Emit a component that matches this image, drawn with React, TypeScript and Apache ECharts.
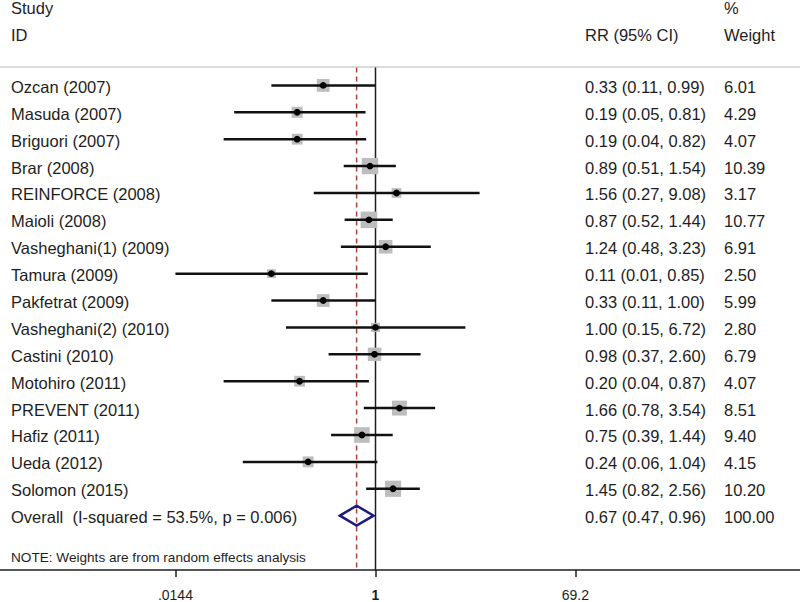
import React, { useEffect, useRef } from "react";
import * as echarts from "echarts";

const studies = [
  "Ozcan (2007)", "Masuda (2007)", "Briguori (2007)", "Brar (2008)", "REINFORCE (2008)",
  "Maioli (2008)", "Vasheghani(1) (2009)", "Tamura (2009)", "Pakfetrat (2009)",
  "Vasheghani(2) (2010)", "Castini (2010)", "Motohiro (2011)", "PREVENT (2011)",
  "Hafiz (2011)", "Ueda (2012)", "Solomon (2015)",
];
const rr = [0.33, 0.19, 0.19, 0.89, 1.56, 0.87, 1.24, 0.11, 0.33, 1.0, 0.98, 0.2, 1.66, 0.75, 0.24, 1.45];
const lower = [0.11, 0.05, 0.04, 0.51, 0.27, 0.52, 0.48, 0.01, 0.11, 0.15, 0.37, 0.04, 0.78, 0.39, 0.06, 0.82];
const upper = [0.99, 0.81, 0.82, 1.54, 9.08, 1.44, 3.23, 0.85, 1.0, 6.72, 2.6, 0.87, 3.54, 1.44, 1.04, 2.56];
const weights = [6.01, 4.29, 4.07, 10.39, 3.17, 10.77, 6.91, 2.5, 5.99, 2.8, 6.79, 4.07, 8.51, 9.4, 4.15, 10.2];

const overallLabel = "Overall  (I-squared = 53.5%, p = 0.006)";
const overallRR = 0.67;
const overallLower = 0.47;
const overallUpper = 0.96;
const overallWeight = 100.0;

const tickValues = [0.0144, 1, 69.2];
const tickLabels = [".0144", "1", "69.2"];

const headerStudy = "Study";
const headerID = "ID";
const headerRR = "RR (95% CI)";
const headerPct = "%";
const headerWeight = "Weight";
const noteText = "NOTE: Weights are from random effects analysis";

const FONT = '"Liberation Sans", Arial, sans-serif';
const TEXT = "#1e1e1e";
const FS = 16.5;

export default function App() {
  const ref = useRef<HTMLDivElement>(null);
  useEffect(() => {
    if (!ref.current) return;
    const chart = echarts.init(ref.current, undefined, { renderer: "svg" });

    const lnMin = Math.log(tickValues[0]);
    const lnMax = Math.log(tickValues[tickValues.length - 1]);
    const pxPerUnit = 200 / ((lnMax - lnMin) / 2);
    const xZeroPx = 375.5;
    const xMin = -xZeroPx / pxPerUnit;
    const xMax = (800 - xZeroPx) / pxPerUnit;
    const rowH = 27.08;
    const row0 = 86;
    const yMin = -row0 / rowH;
    const yMax = (574 - row0) / rowH;
    const lineTopIdx = (68 - row0) / rowH;
    const overallIdx = studies.length;
    const clip = (v: number) => Math.min(Math.max(v, lnMin), lnMax);
    const fmt = (v: number) => v.toFixed(2);

    const rowData = studies.map((s, i) => [
      Math.log(rr[i]), Math.log(lower[i]), Math.log(upper[i]), weights[i], i,
    ]);

    const textStyle = (text: string, x: number, y: number) => ({
      type: "text",
      style: { text, x, y, fill: TEXT, fontSize: FS, fontFamily: FONT, verticalAlign: "middle", align: "left" },
    });
    const headerText = (text: string, x: number, y: number, fs = FS) => ({
      type: "text",
      style: { text, x, y, fill: TEXT, fontSize: fs, fontFamily: FONT, verticalAlign: "middle" },
    });

    const option: any = {
      animation: false,
      backgroundColor: "#ffffff",
      grid: { left: 0, right: 0, top: 0, bottom: 28 },
      xAxis: {
        type: "value",
        min: xMin,
        max: xMax,
        splitLine: { show: false },
        axisLine: { show: true, onZero: false, lineStyle: { color: "#1e1e1e", width: 1.5 } },
        axisTick: {
          show: true,
          length: 7,
          inside: false,
          customValues: tickValues.map((v) => Math.log(v)),
          lineStyle: { color: "#1e1e1e", width: 1.5 },
        },
        axisLabel: {
          show: true,
          margin: 18,
          customValues: tickValues.map((v) => Math.log(v)),
          formatter: (v: number) => {
            let best = 0;
            tickValues.forEach((t, i) => {
              if (Math.abs(Math.log(t) - v) < Math.abs(Math.log(tickValues[best]) - v)) best = i;
            });
            return tickValues[best] === 1 ? `{b|${tickLabels[best]}}` : `{n|${tickLabels[best]}}`;
          },
          rich: {
            n: { fontSize: 14, fontFamily: FONT, color: TEXT },
            b: { fontSize: 14, fontFamily: FONT, color: TEXT, fontWeight: "bold" },
          },
        },
      },
      yAxis: { type: "value", inverse: true, min: yMin, max: yMax, show: false },
      graphic: [
        { type: "line", shape: { x1: 0, y1: 67, x2: 800, y2: 67 }, style: { stroke: "#b5b5b5", lineWidth: 1 } },
        headerText(headerStudy, 11, 8),
        headerText(headerID, 11, 35),
        headerText(headerRR, 585, 35),
        headerText(headerPct, 724, 8),
        headerText(headerWeight, 724, 35),
        headerText(noteText, 11, 557, 13.6),
      ],
      series: [
        {
          type: "custom",
          name: "refLines",
          z: 1,
          clip: false,
          data: [[0, 0], [Math.log(overallRR), 1]],
          renderItem: (params: any, api: any) => {
            const x = api.value(0);
            const dashed = api.value(1) === 1;
            const p1 = api.coord([x, lineTopIdx]);
            const p2 = api.coord([x, yMax]);
            return {
              type: "line",
              shape: { x1: p1[0], y1: p1[1], x2: p2[0], y2: p2[1] },
              style: dashed
                ? { stroke: "#a8403c", lineWidth: 1.5, lineDash: [5, 4] }
                : { stroke: "#1e1e1e", lineWidth: 1.5 },
            };
          },
        },
        {
          type: "custom",
          name: "studies",
          z: 3,
          clip: false,
          data: rowData,
          renderItem: (params: any, api: any) => {
            const est = api.value(0);
            const lo = api.value(1);
            const hi = api.value(2);
            const w = api.value(3);
            const idx = api.value(4);
            const pE = api.coord([est, idx]);
            const pL = api.coord([clip(lo), idx]);
            const pH = api.coord([clip(hi), idx]);
            const side = 4.6 * Math.sqrt(w) + 1.5;
            const i = Math.round(idx);
            return {
              type: "group",
              children: [
                {
                  type: "rect",
                  shape: { x: pE[0] - side / 2, y: pE[1] - side / 2, width: side, height: side },
                  style: { fill: "#bdbdbd" },
                },
                {
                  type: "line",
                  shape: { x1: pL[0], y1: pL[1], x2: pH[0], y2: pH[1] },
                  style: { stroke: "#111111", lineWidth: 2.5 },
                },
                { type: "circle", shape: { cx: pE[0], cy: pE[1], r: 3.4 }, style: { fill: "#000000" } },
                textStyle(studies[i], 11, pE[1] + 1.5),
                textStyle(`${fmt(rr[i])} (${fmt(lower[i])}, ${fmt(upper[i])})`, 585, pE[1] + 1.5),
                textStyle(fmt(weights[i]), 724, pE[1] + 1.5),
              ],
            };
          },
        },
        {
          type: "custom",
          name: "overall",
          z: 3,
          clip: false,
          data: [[Math.log(overallRR), Math.log(overallLower), Math.log(overallUpper), overallIdx]],
          renderItem: (params: any, api: any) => {
            const idx = api.value(3);
            const pE = api.coord([api.value(0), idx]);
            const pL = api.coord([api.value(1), idx]);
            const pH = api.coord([api.value(2), idx]);
            const hh = 10;
            return {
              type: "group",
              children: [
                {
                  type: "polygon",
                  shape: { points: [[pL[0], pE[1]], [pE[0], pE[1] - hh], [pH[0], pE[1]], [pE[0], pE[1] + hh]] },
                  style: { fill: "none", stroke: "#1c1c80", lineWidth: 2.5 },
                },
                textStyle(overallLabel, 11, pE[1] + 1.5),
                textStyle(`${fmt(overallRR)} (${fmt(overallLower)}, ${fmt(overallUpper)})`, 585, pE[1] + 1.5),
                textStyle(fmt(overallWeight), 724, pE[1] + 1.5),
              ],
            };
          },
        },
      ],
    };
    chart.setOption(option);
    return () => chart.dispose();
  }, []);
  return (
    <div
      ref={ref}
      style={{ position: "fixed", left: 0, top: 0, width: 800, height: 602, background: "#fff" }}
    />
  );
}
